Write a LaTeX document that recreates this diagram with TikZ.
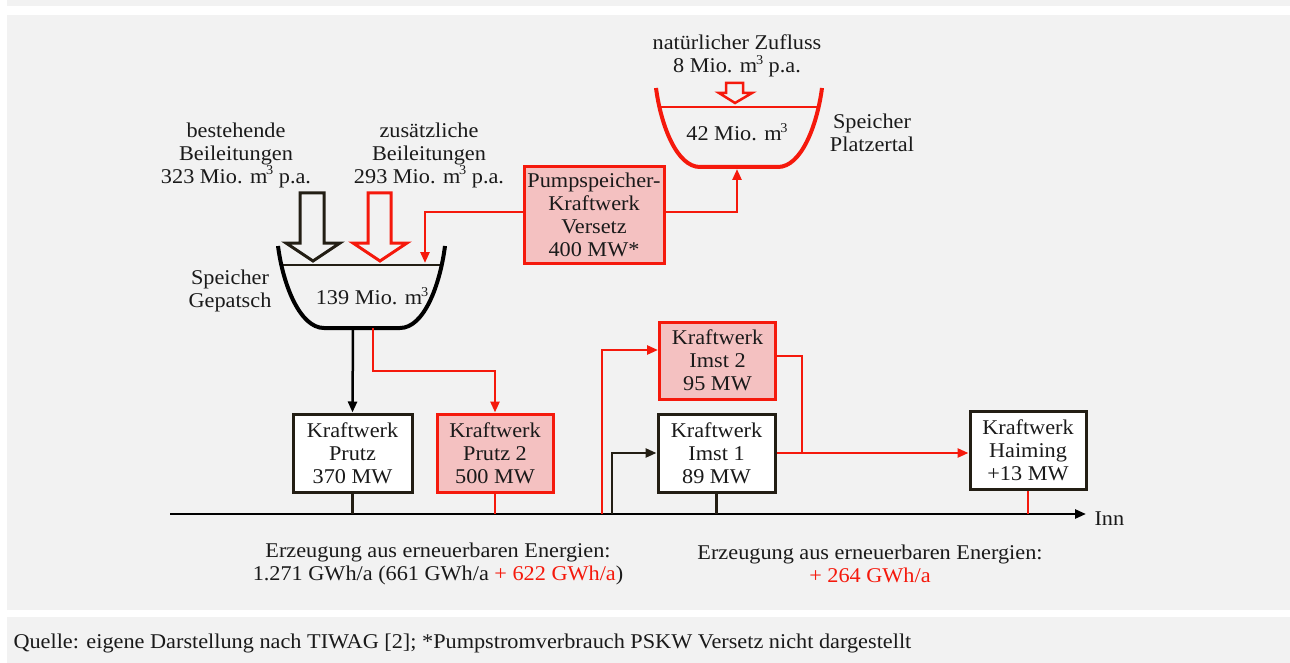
\documentclass[tikz,border=0pt]{standalone}
\usepackage{fontspec}
\setmainfont[FakeStretch=1.06]{Liberation Serif}
\usetikzlibrary{arrows.meta,calc}
\definecolor{bg}{HTML}{F2F2F2}
\definecolor{rd}{HTML}{F5190C}
\definecolor{pk}{HTML}{F4C1C1}
\definecolor{dk}{HTML}{231E14}
\definecolor{tx}{HTML}{1A1A1A}
\tikzset{
  box/.style={draw=dk,line width=3pt,fill=white,minimum width=#1,minimum height=78pt,inner sep=0pt,align=center,text=tx,font=\fontsize{21}{23}\selectfont},
  box/.default=116pt,
  rbox/.style={box=#1,draw=rd,fill=pk},
  rbox/.default=116pt,
  lbl/.style={align=center,text=tx,font=\fontsize{21}{23}\selectfont},
  blk/.style={draw=dk,line width=2.5pt},
  red/.style={draw=rd,line width=2.5pt},
  tip/.style={-{Triangle[length=11pt,width=9pt]}}
}
\newcommand{\mcub}{m\kern-1.2pt\raisebox{0.4em}{\fontsize{13.5}{13.5}\selectfont 3}}
\begin{document}
\begin{tikzpicture}[x=1pt,y=-1pt]
\useasboundingbox (0,0) rectangle (1290,663);
\fill[white] (0,0) rectangle (1290,663);
\fill[bg] (7,0) rectangle (1290,6.5);
\fill[bg] (7,15) rectangle (1290,610);
\fill[bg] (7,617) rectangle (1290,663);
% Gepatsch reservoir
\draw[dk,line width=2pt] (281,265) -- (442,265);
\draw[black,line width=4pt] (278,246) .. controls (283,285) and (300,328) .. (324,328) -- (400,328) .. controls (424,328) and (440,285) .. (445,246);
\coordinate (gepB) at (353,328);
\coordinate (gepR) at (373,328);
\coordinate (gepIn) at (425,263);
% Platzertal reservoir
\draw[rd,line width=2pt] (659,107) -- (819,107);
\draw[rd,line width=4pt] (656,88) .. controls (661,126) and (677,167) .. (700,167) -- (778,167) .. controls (801,167) and (817,126) .. (822,88);
\coordinate (platB) at (737,169);
% block arrows
\draw[dk,line width=3pt,fill=bg,line join=miter] (300,193) -- (324,193) -- (324,243) -- (340,243) -- (313,261) -- (286,243) -- (300,243) -- cycle;
\draw[rd,line width=3pt,fill=bg,line join=miter] (368,193) -- (391,193) -- (391,243) -- (407,243) -- (380,261) -- (353,243) -- (368,243) -- cycle;
\draw[rd,line width=2.5pt,fill=bg,line join=miter] (726,83) -- (743,83) -- (743,93) -- (752,93) -- (735,103) -- (719,93) -- (726,93) -- cycle;
% labels
\node[lbl] (best) at (236,155) {bestehende\\Beileitungen\\323 Mio. \mcub{} p.a.};
\node[lbl] (zus) at (429,155) {zusätzliche\\Beileitungen\\293 Mio. \mcub{} p.a.};
\node[lbl] (gepname) at (230,291) {Speicher\\Gepatsch};
\node[lbl] (gepvol) at (372,296) {139 Mio. \mcub};
\node[lbl] (zufl) at (737,56) {natürlicher Zufluss\\8 Mio. \mcub{} p.a.};
\node[lbl] (platvol) at (737,132) {42 Mio. \mcub};
\node[lbl] (platname) at (872,133) {Speicher\\Platzertal};
% boxes
\node[rbox=140pt,minimum height=96pt] (pskw) at (594,215) {Pumpspeicher-\\Kraftwerk\\Versetz\\400 MW*};
\node[box=119pt] (prutz) at (352.5,453) {Kraftwerk\\Prutz\\370 MW};
\node[rbox] (prutz2) at (495,453) {Kraftwerk\\Prutz 2\\500 MW};
\node[rbox,minimum height=77pt] (imst2) at (717.5,360.5) {Kraftwerk\\Imst 2\\95 MW};
\node[box=117pt] (imst1) at (716.5,453) {Kraftwerk\\Imst 1\\89 MW};
\node[box] (haiming) at (1028,450.5) {Kraftwerk\\Haiming\\+13 MW};
% river
\coordinate (innL) at (170,514);
\coordinate (innR) at (1086,514);
\coordinate (src2) at (602,514);
\coordinate (src1) at (612,514);
\draw[blk,draw=black,tip] (innL) -- (innR);
\node[lbl,anchor=west] (inn) at (1091,519) {Inn};
% connectors
\draw[blk,draw=black,tip] (gepB) -- (prutz.north);
\draw[red,tip] (gepR) -- (373,371) -| (prutz2.north);
\draw[red,tip] ([yshift=3pt]pskw.west) -| (gepIn);
\draw[red,tip] ([yshift=3pt]pskw.east) -| (platB);
\draw[blk] (prutz.south) -- (prutz.south |- innL);
\draw[red] (prutz2.south) -- (prutz2.south |- innL);
\draw[red,tip] (src2) |- ([yshift=10.5pt]imst2.west);
\draw[blk,tip] (src1) |- (imst1.west);
\draw[blk] (imst1.south) -- (imst1.south |- innL);
\draw[red] ([yshift=4.5pt]imst2.east) -| (802,453);
\draw[red,tip] (imst1.east) -- (imst1.east -| haiming.west);
\draw[red] (haiming.south) -- (haiming.south |- innL);
% bottom texts
\node[lbl] (erzL) at (438,564) {Erzeugung aus erneuerbaren Energien:\\1.271 GWh/a (661 GWh/a {\color{rd}+ 622 GWh/a})};
\node[lbl] (erzR) at (870,564) {Erzeugung aus erneuerbaren Energien:\\{\color{rd}+ 264 GWh/a}};
\node[anchor=west,text=tx,font=\fontsize{21}{23}\selectfont] (quelle) at (10,643) {Quelle: eigene Darstellung nach TIWAG [2]; *Pumpstromverbrauch PSKW Versetz nicht dargestellt};
\end{tikzpicture}
\end{document}
